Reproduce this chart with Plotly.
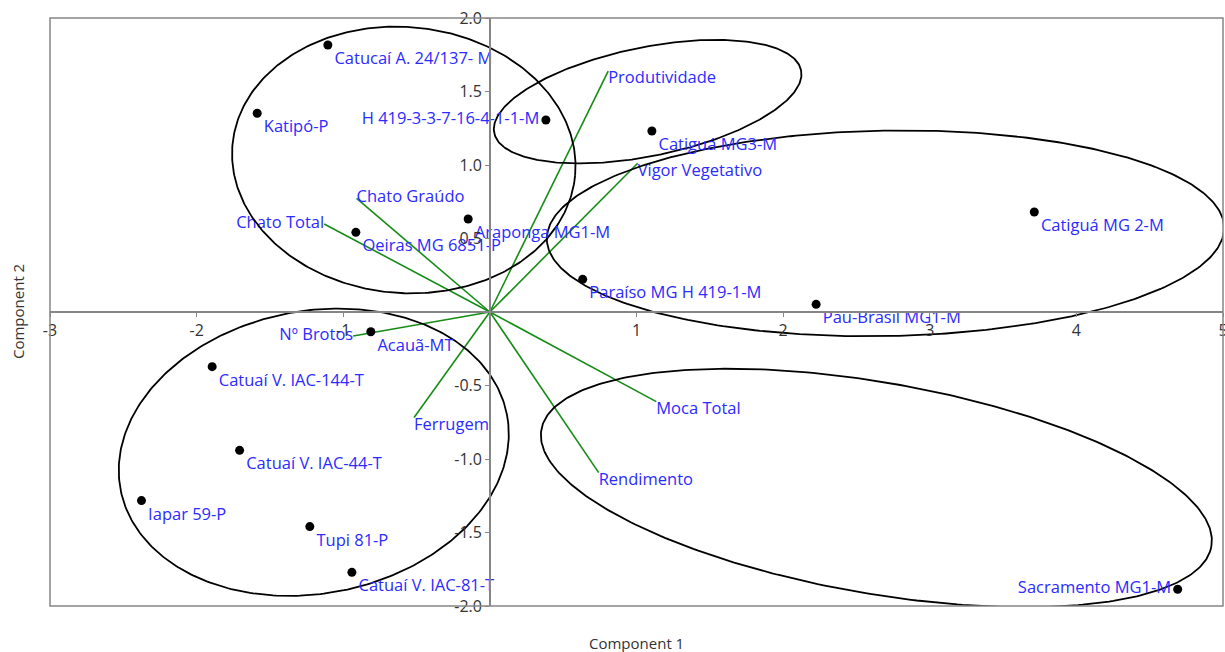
import numpy as np
import plotly.graph_objects as go

# ---- Scores (genotypes) ----
geno_names = ["Catucaí A. 24/137- M", "Katipó-P", "H 419-3-3-7-16-4-1-1-M", "Catiguá MG3-M",
              "Araponga MG1-M", "Oeiras MG 6851-P", "Paraíso MG H 419-1-M", "Pau-Brasil MG1-M",
              "Catiguá MG 2-M", "Acauã-MT", "Catuaí V. IAC-144-T", "Catuaí V. IAC-44-T",
              "Iapar 59-P", "Tupi 81-P", "Catuaí V. IAC-81-T", "Sacramento MG1-M"]
geno_x = [-1.105, -1.587, 0.382, 1.105, -0.148, -0.914, 0.633, 2.225,
          3.713, -0.812, -1.894, -1.707, -2.376, -1.228, -0.941, 4.691]
geno_y = [1.816, 1.352, 1.306, 1.231, 0.633, 0.542, 0.222, 0.052,
          0.680, -0.134, -0.372, -0.941, -1.283, -1.460, -1.771, -1.886]
geno_pos = ["bottom right", "bottom right", "middle left", "bottom right",
            "bottom right", "bottom right", "bottom right", "bottom right",
            "bottom right", "bottom right", "bottom right", "bottom right",
            "bottom right", "bottom right", "bottom right", "middle left"]

# ---- Loadings (variables) ----
var_names = ["Produtividade", "Vigor Vegetativo", "Chato Graúdo", "Chato Total",
             "Nº Brotos", "Ferrugem", "Moca Total", "Rendimento"]
var_x = [0.807, 1.008, -0.909, -1.130, -0.932, -0.517, 1.135, 0.742]
var_y = [1.639, 1.012, 0.773, 0.599, -0.163, -0.718, -0.610, -1.093]
var_pos = ["bottom right", "bottom right", "middle right", "middle left",
           "middle left", "bottom right", "bottom right", "bottom right"]

# ---- Group ellipses (center, semi-axes, rotation in degrees) ----
ell_cx = [-0.587, 1.076, 2.698, -1.201, 2.636]
ell_cy = [1.034, 1.431, 0.535, -0.954, -1.197]
ell_a = [1.173, 1.068, 2.310, 1.342, 2.319]
ell_b = [0.905, 0.370, 0.699, 0.961, 0.718]
ell_ang = [-5.0, 11.5, 1.0, 11.0, -9.85]

x_range = [-3, 5]
y_range = [-2, 2]
x_ticks = [-3, -2, -1, 1, 2, 3, 4, 5]
y_ticks = [-2.0, -1.5, -1.0, -0.5, 0.5, 1.0, 1.5, 2.0]

LABEL_BLUE = "#2b2bff"
GREEN = "#168c16"
AXIS_GRAY = "#868686"
TICK_COLOR = "#333333"
FONT = "Open Sans"
LABEL_SIZE = 16.5

fig = go.Figure()

# loading vectors
for vx, vy in zip(var_x, var_y):
    fig.add_trace(go.Scatter(x=[0, vx], y=[0, vy], mode="lines",
                             line=dict(color=GREEN, width=1.6),
                             hoverinfo="skip", showlegend=False))
fig.add_trace(go.Scatter(x=var_x, y=var_y, mode="text", text=var_names,
                         textposition=var_pos,
                         textfont=dict(color=LABEL_BLUE, size=LABEL_SIZE, family=FONT),
                         showlegend=False, cliponaxis=False))

# ellipses
t = np.linspace(0, 2 * np.pi, 361)
for cx, cy, a, b, ang in zip(ell_cx, ell_cy, ell_a, ell_b, ell_ang):
    th = np.deg2rad(ang)
    ex = cx + a * np.cos(t) * np.cos(th) - b * np.sin(t) * np.sin(th)
    ey = cy + a * np.cos(t) * np.sin(th) + b * np.sin(t) * np.cos(th)
    fig.add_trace(go.Scatter(x=ex, y=ey, mode="lines",
                             line=dict(color="black", width=1.8),
                             hoverinfo="skip", showlegend=False))

# score points
fig.add_trace(go.Scatter(x=geno_x, y=geno_y, mode="markers+text", text=geno_names,
                         textposition=geno_pos,
                         marker=dict(color="black", size=9),
                         textfont=dict(color=LABEL_BLUE, size=LABEL_SIZE, family=FONT),
                         showlegend=False, cliponaxis=False))

x_pos = (0 - y_range[0]) / (y_range[1] - y_range[0])
y_pos = (0 - x_range[0]) / (x_range[1] - x_range[0])

fig.update_layout(
    width=1225, height=652,
    margin=dict(l=50, r=2, t=18, b=46),
    paper_bgcolor="white", plot_bgcolor="white",
    font=dict(family=FONT, color=TICK_COLOR),
    xaxis=dict(range=x_range, anchor="free", position=x_pos, showline=True,
               automargin=False, ticklabeloverflow="allow",
               linecolor=AXIS_GRAY, linewidth=1.5, ticks="outside", ticklen=4,
               tickcolor=AXIS_GRAY, tickvals=x_ticks,
               ticktext=[str(v) for v in x_ticks],
               showgrid=False, zeroline=False,
               tickfont=dict(size=16, color=TICK_COLOR, family=FONT)),
    yaxis=dict(range=y_range, anchor="free", position=y_pos, showline=True,
               automargin=False, ticklabeloverflow="allow",
               linecolor=AXIS_GRAY, linewidth=1.5, ticks="outside", ticklen=4,
               tickcolor=AXIS_GRAY, tickvals=y_ticks,
               ticktext=["%.1f" % v for v in y_ticks],
               showgrid=False, zeroline=False,
               tickfont=dict(size=16, color=TICK_COLOR, family=FONT)),
    shapes=[dict(type="rect", xref="paper", yref="paper", x0=0, x1=1, y0=0, y1=1,
                 line=dict(color=AXIS_GRAY, width=1.5), layer="above")],
    annotations=[
        dict(text="Component 1", xref="paper", yref="paper", x=0.5, y=0,
             yanchor="middle", yshift=-37, showarrow=False,
             font=dict(size=15, color=TICK_COLOR, family=FONT)),
        dict(text="Component 2", xref="paper", yref="paper", x=0, y=0.5,
             xanchor="center", xshift=-32, textangle=-90, showarrow=False,
             font=dict(size=15, color=TICK_COLOR, family=FONT)),
    ],
)

fig.write_html(
    "out.html",
    config={"displayModeBar": False},
    post_script="document.body.style.margin='0';document.body.style.overflow='hidden';",
)
